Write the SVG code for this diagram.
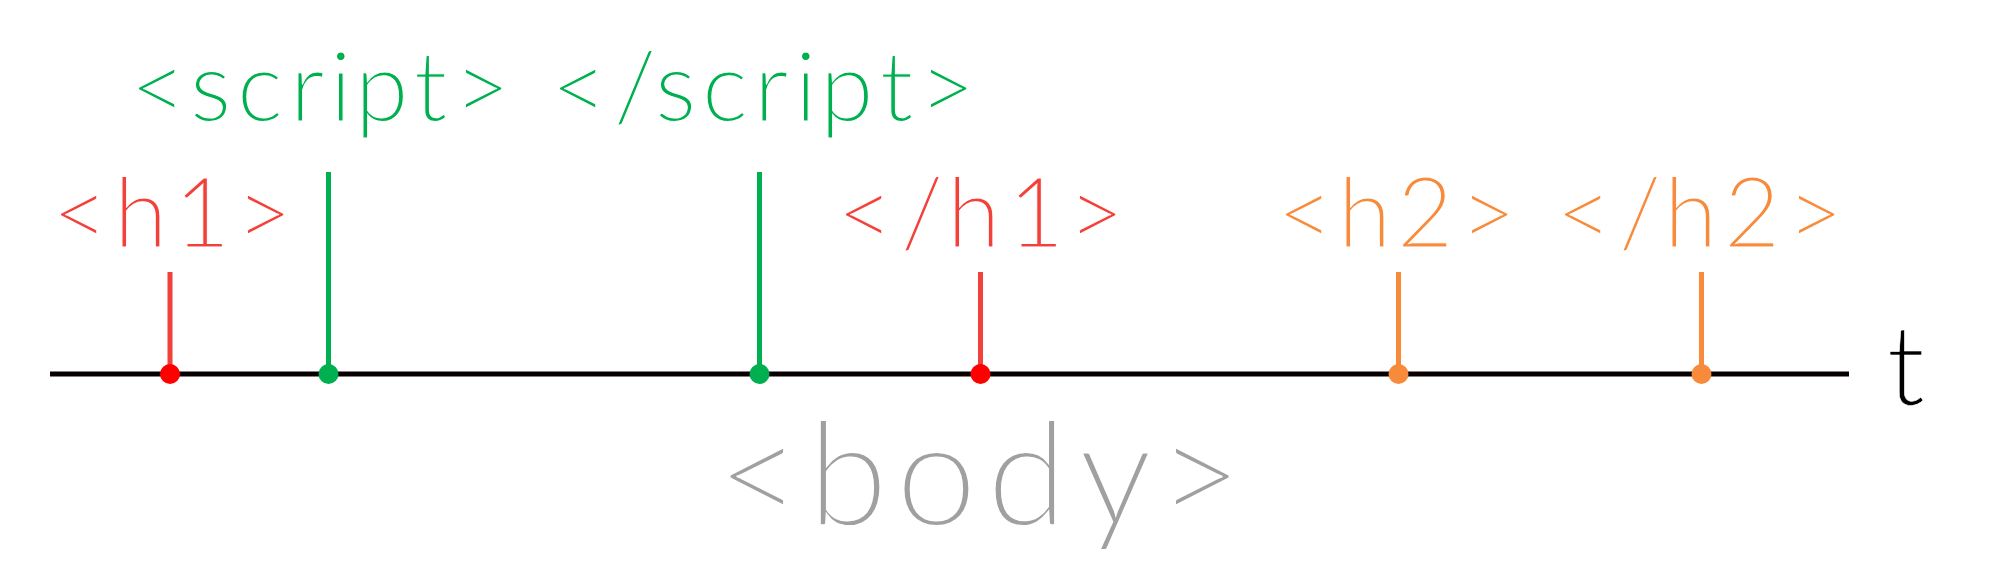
<svg xmlns="http://www.w3.org/2000/svg" width="2000" height="574" viewBox="0 0 2000 574">
<style>
  text { font-family: Lato, "Open Sans", "Liberation Sans", sans-serif; font-weight: 300; stroke: #ffffff; paint-order: fill; }
  .lbl { font-size: 97px; stroke-width: 1.0px; }
  .red { fill: #f2413b; }
  .grn { fill: #00b050; }
  .org { fill: #f78b3b; }
  .body { font-size: 145px; fill: #a0a0a0; stroke-width: 1.8px; }
  .tlab { font-size: 110px; fill: #000000; stroke-width: 0.6px; }
  .axis { stroke: #080000; stroke-width: 5; }
  .stem { stroke-width: 5; fill: none; }
  .s-red { stroke: #f2413b; }
  .s-grn { stroke: #00b050; }
  .s-org { stroke: #f78b3b; }
  .dot-red { fill: #ff0000; }
  .dot-grn { fill: #00b050; }
  .dot-org { fill: #f78b3b; }
</style>
<rect width="2000" height="574" fill="#ffffff"/>
<g id="axis">
  <line class="axis" x1="50" y1="374" x2="1849" y2="374"/>
  <text class="tlab" x="1887" y="405">t</text>
</g>
<g id="connectors">
  <line class="stem s-red" x1="170" y1="272" x2="170" y2="374"/>
  <line class="stem s-grn" x1="328.5" y1="172" x2="328.5" y2="374"/>
  <line class="stem s-grn" x1="759.5" y1="172" x2="759.5" y2="374"/>
  <line class="stem s-red" x1="980.5" y1="272" x2="980.5" y2="374"/>
  <line class="stem s-org" x1="1398.5" y1="272" x2="1398.5" y2="374"/>
  <line class="stem s-org" x1="1701.5" y1="272" x2="1701.5" y2="374"/>
</g>
<g id="h1-open">
  <text class="lbl red" x="52 114 174 236" y="247">&lt;h1&gt;</text>
  <circle class="dot-red" cx="170" cy="374" r="10"/>
</g>
<g id="script-open">
  <text class="lbl grn" x="130 190 237 290 330 355 414 454" y="121">&lt;script&gt;</text>
  <circle class="dot-grn" cx="328.5" cy="374" r="10"/>
</g>
<g id="script-close">
  <text class="lbl grn" x="551 614 655 702 754 795 820 880 919" y="121">&lt;/script&gt;</text>
  <circle class="dot-grn" cx="759.5" cy="374" r="10"/>
</g>
<g id="h1-close">
  <text class="lbl red" x="837 901 947 1008 1068" y="247">&lt;/h1&gt;</text>
  <circle class="dot-red" cx="980.5" cy="374" r="10"/>
</g>
<g id="h2-open">
  <text class="lbl org" x="1277 1338 1397 1460" y="247">&lt;h2&gt;</text>
  <circle class="dot-org" cx="1398.5" cy="374" r="10"/>
</g>
<g id="h2-close">
  <text class="lbl org" x="1556 1619 1664 1724 1787" y="247">&lt;/h2&gt;</text>
  <circle class="dot-org" cx="1701.5" cy="374" r="10"/>
</g>
<g id="body">
  <text class="body" x="717 808 896 987 1079 1158" y="525">&lt;body&gt;</text>
</g>
</svg>
